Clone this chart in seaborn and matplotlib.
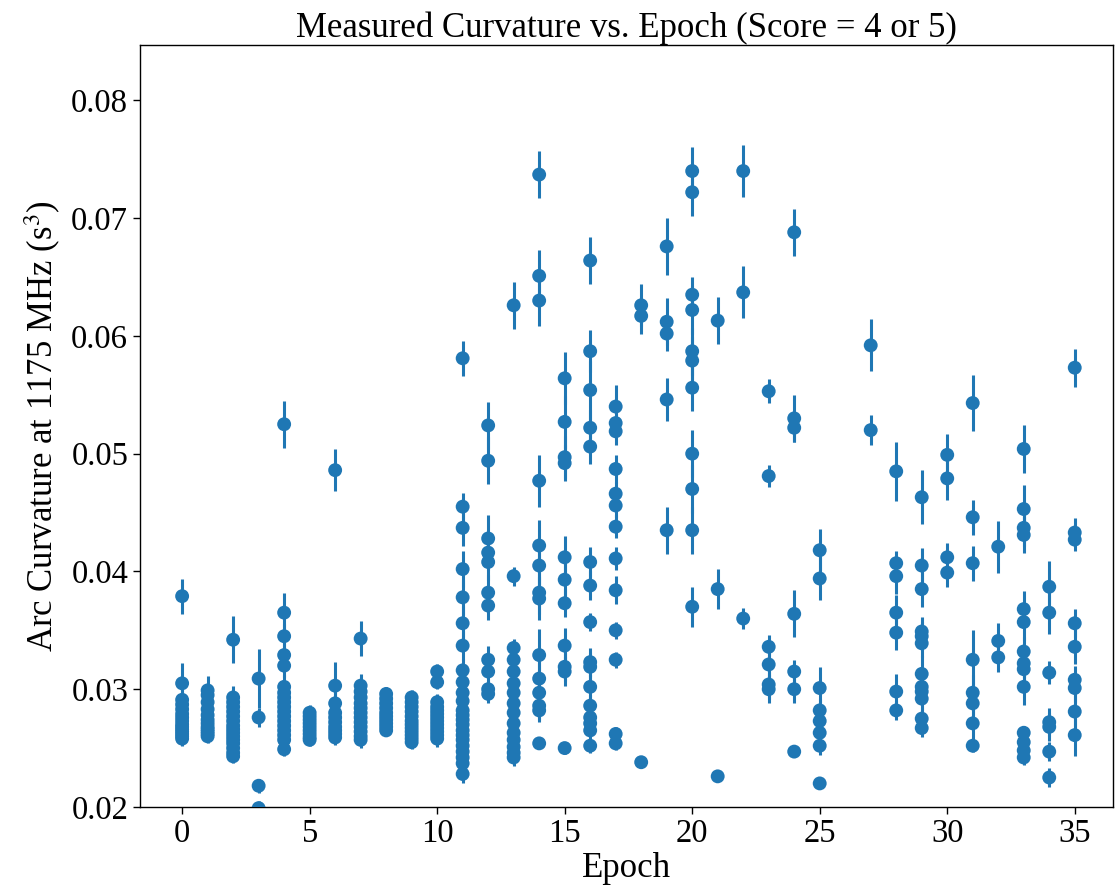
import matplotlib
matplotlib.use("Agg")
import matplotlib.pyplot as plt
import seaborn as sns
import pandas as pd

epochs = [0, 1, 2, 3, 4, 5, 6, 7, 8, 9, 10, 11, 12, 13, 14, 15, 16, 17, 18,
          19, 20, 21, 22, 23, 24, 25, 27, 28, 29, 30, 31, 32, 33, 34, 35]

curvature = [
    [0.0379, 0.0305, 0.0291, 0.0287, 0.0283, 0.0279, 0.0276, 0.0273, 0.0270, 0.0268, 0.0266, 0.0264, 0.0262, 0.0260, 0.0258],
    [0.0299, 0.0295, 0.0289, 0.0283, 0.0278, 0.0274, 0.0271, 0.0268, 0.0266, 0.0264, 0.0262, 0.0260],
    [0.0342, 0.0293, 0.0289, 0.0285, 0.0281, 0.0277, 0.0273, 0.0269, 0.0266, 0.0263, 0.0260, 0.0257, 0.0254, 0.0250, 0.0246, 0.0243],
    [0.0309, 0.0276, 0.0218, 0.0199],
    [0.0525, 0.0365, 0.0345, 0.0329, 0.0320, 0.0302, 0.0297, 0.0293, 0.0289, 0.0285, 0.0281, 0.0277, 0.0273, 0.0269, 0.0265, 0.0261, 0.0257, 0.0249],
    [0.0280, 0.0277, 0.0274, 0.0271, 0.0268, 0.0265, 0.0262, 0.0259, 0.0257],
    [0.0486, 0.0303, 0.0288, 0.0280, 0.0276, 0.0272, 0.0268, 0.0265, 0.0262, 0.0259],
    [0.0343, 0.0303, 0.0298, 0.0293, 0.0288, 0.0284, 0.0280, 0.0276, 0.0272, 0.0268, 0.0264, 0.0260, 0.0257],
    [0.0296, 0.0292, 0.0288, 0.0284, 0.0280, 0.0277, 0.0274, 0.0271, 0.0268, 0.0265],
    [0.0293, 0.0289, 0.0285, 0.0281, 0.0277, 0.0273, 0.0270, 0.0267, 0.0264, 0.0261, 0.0258, 0.0255],
    [0.0315, 0.0306, 0.0289, 0.0285, 0.0282, 0.0279, 0.0276, 0.0273, 0.0270, 0.0267, 0.0264, 0.0261, 0.0258],
    [0.0581, 0.0455, 0.0437, 0.0402, 0.0378, 0.0356, 0.0337, 0.0316, 0.0306, 0.0297, 0.0290, 0.0282, 0.0278, 0.0274, 0.0270, 0.0265, 0.0261, 0.0257, 0.0252, 0.0247, 0.0242, 0.0237, 0.0228],
    [0.0524, 0.0494, 0.0428, 0.0416, 0.0408, 0.0382, 0.0371, 0.0325, 0.0315, 0.0300, 0.0296],
    [0.0626, 0.0396, 0.0335, 0.0325, 0.0315, 0.0305, 0.0297, 0.0288, 0.0280, 0.0271, 0.0263, 0.0257, 0.0251, 0.0246, 0.0242],
    [0.0737, 0.0651, 0.0630, 0.0477, 0.0422, 0.0405, 0.0382, 0.0377, 0.0329, 0.0309, 0.0297, 0.0286, 0.0282, 0.0254],
    [0.0564, 0.0527, 0.0497, 0.0492, 0.0412, 0.0393, 0.0373, 0.0337, 0.0319, 0.0315, 0.0250],
    [0.0664, 0.0587, 0.0554, 0.0522, 0.0506, 0.0408, 0.0388, 0.0357, 0.0323, 0.0319, 0.0302, 0.0286, 0.0276, 0.0271, 0.0265, 0.0252],
    [0.0540, 0.0526, 0.0519, 0.0487, 0.0466, 0.0456, 0.0438, 0.0411, 0.0384, 0.0350, 0.0325, 0.0262, 0.0254],
    [0.0626, 0.0617, 0.0238],
    [0.0676, 0.0612, 0.0602, 0.0546, 0.0435],
    [0.0740, 0.0722, 0.0635, 0.0622, 0.0587, 0.0579, 0.0556, 0.0500, 0.0470, 0.0435, 0.0370],
    [0.0613, 0.0385, 0.0226],
    [0.0740, 0.0637, 0.0360],
    [0.0553, 0.0481, 0.0336, 0.0321, 0.0304, 0.0300],
    [0.0688, 0.0530, 0.0522, 0.0364, 0.0315, 0.0300, 0.0247],
    [0.0418, 0.0394, 0.0301, 0.0282, 0.0273, 0.0263, 0.0252, 0.0220],
    [0.0592, 0.0520],
    [0.0485, 0.0407, 0.0396, 0.0365, 0.0348, 0.0298, 0.0282],
    [0.0463, 0.0405, 0.0385, 0.0349, 0.0345, 0.0339, 0.0313, 0.0302, 0.0298, 0.0292, 0.0275, 0.0267],
    [0.0499, 0.0479, 0.0412, 0.0399],
    [0.0543, 0.0446, 0.0407, 0.0325, 0.0297, 0.0288, 0.0271, 0.0252],
    [0.0421, 0.0341, 0.0327],
    [0.0504, 0.0453, 0.0437, 0.0431, 0.0368, 0.0357, 0.0332, 0.0322, 0.0317, 0.0302, 0.0263, 0.0255, 0.0248, 0.0242],
    [0.0387, 0.0365, 0.0314, 0.0272, 0.0268, 0.0247, 0.0225],
    [0.0573, 0.0433, 0.0427, 0.0356, 0.0336, 0.0308, 0.0301, 0.0281, 0.0261],
]

curvature_err = [
    [0.0015, 0.0017, 0.0010, 0.0006, 0.0006, 0.0006, 0.0006, 0.0006, 0.0006, 0.0006, 0.0006, 0.0006, 0.0006, 0.0006, 0.0006],
    [0.0012, 0.0006, 0.0006, 0.0006, 0.0006, 0.0006, 0.0006, 0.0006, 0.0006, 0.0006, 0.0006, 0.0006],
    [0.0020, 0.0010, 0.0006, 0.0006, 0.0006, 0.0006, 0.0006, 0.0006, 0.0006, 0.0006, 0.0006, 0.0006, 0.0006, 0.0006, 0.0006, 0.0006],
    [0.0025, 0.0008, 0.0006, 0.0006],
    [0.0020, 0.0017, 0.0010, 0.0010, 0.0010, 0.0010, 0.0007, 0.0007, 0.0007, 0.0007, 0.0007, 0.0007, 0.0007, 0.0007, 0.0007, 0.0007, 0.0007, 0.0006],
    [0.0007, 0.0005, 0.0005, 0.0005, 0.0005, 0.0005, 0.0005, 0.0005, 0.0005],
    [0.0018, 0.0020, 0.0012, 0.0006, 0.0006, 0.0006, 0.0006, 0.0006, 0.0006, 0.0006],
    [0.0015, 0.0010, 0.0007, 0.0007, 0.0007, 0.0007, 0.0007, 0.0007, 0.0007, 0.0007, 0.0007, 0.0007, 0.0007],
    [0.0006, 0.0005, 0.0005, 0.0005, 0.0005, 0.0005, 0.0005, 0.0005, 0.0005, 0.0005],
    [0.0006, 0.0006, 0.0006, 0.0006, 0.0006, 0.0006, 0.0006, 0.0006, 0.0006, 0.0006, 0.0006, 0.0006],
    [0.0006, 0.0006, 0.0007, 0.0007, 0.0007, 0.0007, 0.0007, 0.0007, 0.0007, 0.0007, 0.0007, 0.0007, 0.0007],
    [0.0015, 0.0012, 0.0015, 0.0015, 0.0015, 0.0015, 0.0012, 0.0010, 0.0008, 0.0008, 0.0008, 0.0008, 0.0008, 0.0008, 0.0008, 0.0008, 0.0008, 0.0008, 0.0008, 0.0008, 0.0008, 0.0008, 0.0008],
    [0.0020, 0.0020, 0.0020, 0.0015, 0.0015, 0.0015, 0.0012, 0.0012, 0.0010, 0.0008, 0.0008],
    [0.0020, 0.0008, 0.0008, 0.0008, 0.0007, 0.0007, 0.0007, 0.0007, 0.0007, 0.0007, 0.0007, 0.0007, 0.0007, 0.0007, 0.0007],
    [0.0020, 0.0022, 0.0022, 0.0022, 0.0022, 0.0018, 0.0018, 0.0018, 0.0022, 0.0015, 0.0012, 0.0012, 0.0010, 0.0005],
    [0.0022, 0.0022, 0.0018, 0.0015, 0.0018, 0.0015, 0.0012, 0.0015, 0.0012, 0.0012, 0.0005],
    [0.0020, 0.0018, 0.0025, 0.0015, 0.0015, 0.0013, 0.0012, 0.0008, 0.0012, 0.0012, 0.0010, 0.0009, 0.0009, 0.0008, 0.0008, 0.0006],
    [0.0018, 0.0012, 0.0012, 0.0012, 0.0010, 0.0010, 0.0010, 0.0010, 0.0012, 0.0007, 0.0007, 0.0006, 0.0006],
    [0.0018, 0.0015, 0.0004],
    [0.0024, 0.0020, 0.0015, 0.0018, 0.0020],
    [0.0020, 0.0020, 0.0015, 0.0020, 0.0020, 0.0020, 0.0020, 0.0020, 0.0020, 0.0020, 0.0017],
    [0.0020, 0.0017, 0.0004],
    [0.0022, 0.0022, 0.0009],
    [0.0010, 0.0009, 0.0010, 0.0012, 0.0012, 0.0012],
    [0.0020, 0.0020, 0.0012, 0.0020, 0.0010, 0.0012, 0.0004],
    [0.0018, 0.0018, 0.0018, 0.0010, 0.0008, 0.0008, 0.0008, 0.0004],
    [0.0022, 0.0013],
    [0.0025, 0.0010, 0.0015, 0.0015, 0.0015, 0.0015, 0.0008],
    [0.0023, 0.0015, 0.0015, 0.0012, 0.0012, 0.0012, 0.0015, 0.0012, 0.0012, 0.0012, 0.0010, 0.0008],
    [0.0018, 0.0018, 0.0012, 0.0012],
    [0.0024, 0.0015, 0.0015, 0.0025, 0.0015, 0.0015, 0.0015, 0.0005],
    [0.0022, 0.0015, 0.0012],
    [0.0020, 0.0020, 0.0015, 0.0015, 0.0015, 0.0015, 0.0012, 0.0012, 0.0012, 0.0015, 0.0006, 0.0006, 0.0006, 0.0006],
    [0.0022, 0.0018, 0.0010, 0.0012, 0.0012, 0.0008, 0.0008],
    [0.0016, 0.0012, 0.0010, 0.0012, 0.0015, 0.0012, 0.0012, 0.0015, 0.0018],
]

x_ticks = [0, 5, 10, 15, 20, 25, 30, 35]
y_ticks = [0.02, 0.03, 0.04, 0.05, 0.06, 0.07, 0.08]

rows = []
for ep, vals, errs in zip(epochs, curvature, curvature_err):
    for v, e in zip(vals, errs):
        rows.append({"Epoch": ep, "Curvature": v, "Err": e})
df = pd.DataFrame(rows)

sns.set_style("ticks")
plt.rcParams["font.family"] = ["Liberation Serif", "DejaVu Serif"]
plt.rcParams["mathtext.fontset"] = "stix"
plt.rcParams["text.color"] = "black"
plt.rcParams["axes.labelcolor"] = "black"
plt.rcParams["xtick.color"] = "black"
plt.rcParams["ytick.color"] = "black"

color = "#1f77b4"
fig = plt.figure(figsize=(11.15, 8.90), dpi=100)
ax = fig.add_axes([0.1256, 0.0933, 0.8726, 0.8561])

ax.errorbar(df["Epoch"], df["Curvature"], yerr=df["Err"], fmt="none",
            ecolor=color, elinewidth=2.2, capsize=0, zorder=2)
sns.scatterplot(data=df, x="Epoch", y="Curvature", ax=ax, color=color,
                s=100, linewidth=0, edgecolor="none", zorder=3, legend=False)

ax.set_xlim(-1.65, 36.5)
ax.set_ylim(0.02, 0.0847)
ax.set_xticks(x_ticks)
ax.set_yticks(y_ticks)
ax.set_xticklabels([str(t) for t in x_ticks])
ax.set_yticklabels([f"{t:.2f}" for t in y_ticks])
ax.tick_params(axis="both", labelsize=23.5, direction="out", length=5, width=1,
               colors="black")
ax.set_xlabel("Epoch", fontsize=25, labelpad=2)
ax.set_ylabel("Arc Curvature at 1175 MHz (s$^3$)", fontsize=25, labelpad=6)
ax.set_title("Measured Curvature vs. Epoch (Score = 4 or 5)", fontsize=25, pad=6)
for s in ax.spines.values():
    s.set_linewidth(1.0)
    s.set_color("black")

fig.savefig("out.png", dpi=100)
